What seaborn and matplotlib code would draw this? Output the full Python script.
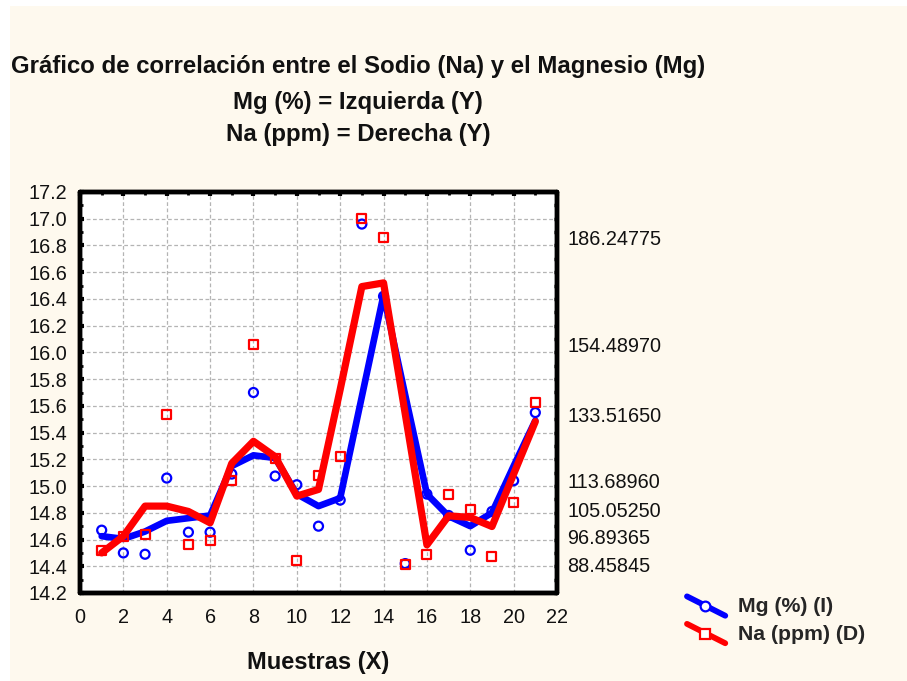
import numpy as np
import pandas as pd
import matplotlib
matplotlib.use("Agg")
import matplotlib.pyplot as plt
import seaborn as sns
from matplotlib.lines import Line2D
from matplotlib.patches import Rectangle
from matplotlib.ticker import MultipleLocator, FixedLocator

# --- data -------------------------------------------------------------
muestras = list(range(1, 22))
mg_pct = [14.67, 14.50, 14.49, 15.06, 14.655, 14.655, 15.09, 15.70, 15.075, 15.01,
          14.70, 14.895, 16.96, 16.42, 14.42, 14.94, 14.78, 14.52, 14.81, 15.04, 15.55]
na_ppm = [92.7, 96.89365, 97.6, 133.5165, 94.5, 95.8, 113.6896, 154.4897, 120.2, 89.6,
          115.2, 120.8, 192.1, 186.24775, 88.45845, 91.5, 109.4, 105.0525, 90.9, 107.0, 136.9]
# smoothed fits drawn as the thick lines
mg_fit = [14.625, 14.605, 14.66, 14.74, 14.76, 14.78, 15.15, 15.23, 15.21, 14.94,
          14.85, 14.91, 15.67, 16.43, 15.68, 14.94, 14.775, 14.70, 14.80, 15.15, 15.49]
na_fit = [92.0, 97.0, 106.0, 106.0, 104.4, 101.0, 118.8, 125.4, 120.8, 109.0,
          111.0, 140.9, 171.7, 172.8, 133.6, 94.4, 103.1, 102.6, 99.9, 115.6, 131.3]
na_tick_values = [186.24775, 154.48970, 133.51650, 113.68960, 105.05250, 96.89365, 88.45845]
na_tick_labels = ["186.24775", "154.48970", "133.51650", "113.68960", "105.05250",
                  "96.89365", "88.45845"]

df = pd.DataFrame({"muestra": muestras, "mg": mg_pct, "na": na_ppm,
                   "mg_fit": mg_fit, "na_fit": na_fit})

BLUE = "#0000FF"
RED = "#FF0000"
CREAM = "#FEF9EE"
INK = "#111111"

sns.set_style("white")
plt.rcParams["font.family"] = ["Liberation Sans", "DejaVu Sans"]

W, H = 907, 681
fig = plt.figure(figsize=(W / 100, H / 100), dpi=100)
fig.patch.set_facecolor("white")
fig.patches.append(Rectangle((10 / W, 0), 1 - 10 / W, 1 - 6 / H, transform=fig.transFigure,
                             facecolor=CREAM, edgecolor="none", zorder=-10))

# axes box in pixels: left 80, right 557, top 192, bottom 593
ax = fig.add_axes([80 / W, (H - 593) / H, 477 / W, 401 / H])
ax.set_facecolor("white")
ax2 = ax.twinx()

# left axis: Mg
sns.lineplot(data=df, x="muestra", y="mg_fit", ax=ax, color=BLUE, linewidth=4.8,
             sort=False, zorder=3)
sns.scatterplot(data=df, x="muestra", y="mg", ax=ax, marker="o", color=BLUE,
                facecolor="none", edgecolor=BLUE, linewidth=1.6, s=42, zorder=4)

# right axis: Na
sns.lineplot(data=df, x="muestra", y="na_fit", ax=ax2, color=RED, linewidth=5.2,
             sort=False, zorder=3)
sns.scatterplot(data=df, x="muestra", y="na", ax=ax2, marker="s", color=RED,
                facecolor="none", edgecolor=RED, linewidth=1.6, s=42, zorder=4)

ax.set_xlim(0, 22)
ax.set_ylim(14.2, 17.2)
ax2.set_ylim(80, 200)

ax.xaxis.set_major_locator(MultipleLocator(2))
ax.xaxis.set_minor_locator(MultipleLocator(1))
ax.yaxis.set_major_locator(MultipleLocator(0.2))
ax.yaxis.set_minor_locator(MultipleLocator(0.1))
ax.yaxis.set_major_formatter(matplotlib.ticker.FormatStrFormatter("%.1f"))

ax.grid(True, which="major", color="#B4B4B4", linestyle=(0, (3, 2)), linewidth=0.9)
ax.set_axisbelow(True)

ax.tick_params(axis="both", which="both", direction="in", color="black",
               top=True, labelsize=14.3, labelcolor=INK)
ax.tick_params(which="major", length=3, width=3)
ax.tick_params(which="minor", length=2, width=2)
ax.tick_params(axis="y", which="both", right=False)
ax.tick_params(axis="y", which="major", pad=9)
ax.tick_params(axis="x", which="major", pad=10.5)

ax2.yaxis.set_major_locator(FixedLocator(na_tick_values))
ax2.set_yticklabels(na_tick_labels)
ax2.yaxis.set_minor_locator(MultipleLocator(4))
ax2.tick_params(axis="y", which="major", length=0, pad=7.5, labelsize=14.3,
                labelcolor=INK)
ax2.tick_params(axis="y", which="minor", direction="in", length=2.5, width=2.5,
                color="black")

for a in (ax, ax2):
    for sp in a.spines.values():
        sp.set_linewidth(3.2)
        sp.set_color("black")
        sp.set_capstyle("round")

ax.set_xlabel("")
ax.set_ylabel("")
ax2.set_ylabel("")

# titles and axis caption
title_kw = dict(ha="center", va="center", fontsize=17.3, fontweight="bold", color=INK)
fig.text(358 / W, 1 - 67 / H, "Gráfico de correlación entre el Sodio (Na) y el Magnesio (Mg)",
         **title_kw)
fig.text(358 / W, 1 - 103 / H, "Mg (%) = Izquierda (Y)", **title_kw)
fig.text(358 / W, 1 - 134 / H, "Na (ppm) = Derecha (Y)", **title_kw)
fig.text(318 / W, 1 - 662 / H, "Muestras (X)", ha="center", va="center",
         fontsize=17, fontweight="bold", color=INK)


class DiagonalHandler:
    """Legend key drawn as a slanted thick line with the marker in its middle."""

    def legend_artist(self, legend, orig_handle, fontsize, handlebox):
        x0, y0 = handlebox.xdescent, handlebox.ydescent
        w, h = handlebox.width, handlebox.height
        c = orig_handle.get_color()
        line = Line2D([x0, x0 + w], [y0 + h * 1.05, y0 - h * 0.25], color=c,
                      linewidth=4.2, solid_capstyle="round",
                      transform=handlebox.get_transform())
        mark = Line2D([x0 + w * 0.48], [y0 + h * 0.4], marker=orig_handle.get_marker(),
                      markersize=7, markerfacecolor="white", markeredgecolor=c,
                      markeredgewidth=1.6, linestyle="none",
                      transform=handlebox.get_transform())
        handlebox.add_artist(line)
        handlebox.add_artist(mark)
        return line


h_mg = Line2D([], [], color=BLUE, marker="o")
h_na = Line2D([], [], color=RED, marker="s")
fig.legend([h_mg, h_na], ["Mg (%) (I)", "Na (ppm) (D)"],
           handler_map={h_mg: DiagonalHandler(), h_na: DiagonalHandler()},
           loc="upper left", bbox_to_anchor=(687 / W, 1 - 597 / H),
           bbox_transform=fig.transFigure, frameon=False, borderpad=0,
           borderaxespad=0, handlelength=1.8, handletextpad=0.58, labelspacing=0.4,
           prop={"weight": "bold", "size": 15.3})

fig.savefig("out.png", dpi=100, facecolor=fig.get_facecolor())
